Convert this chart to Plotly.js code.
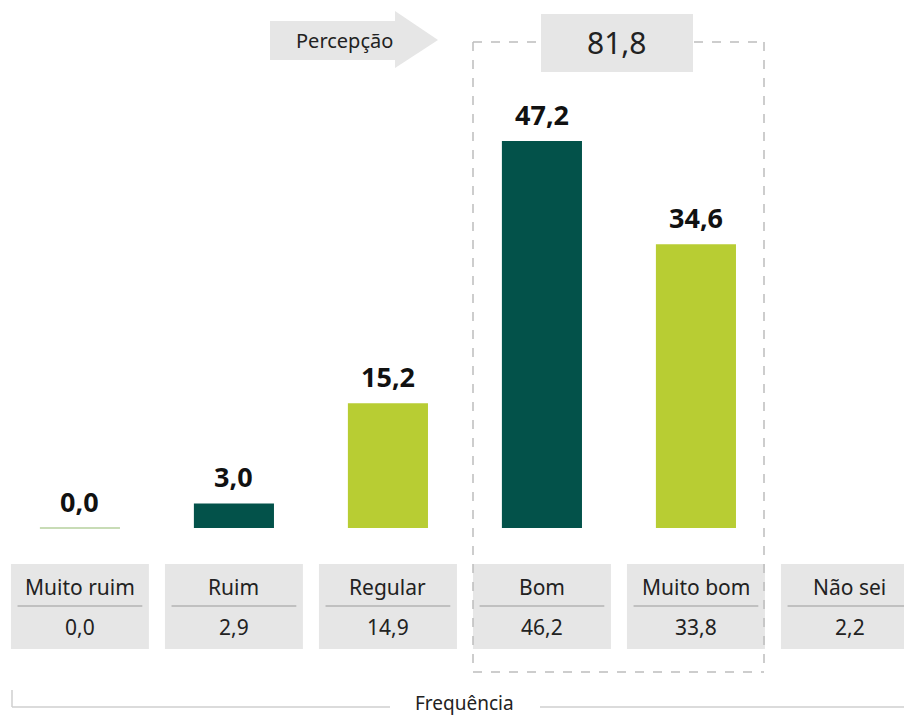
<!DOCTYPE html>
<html>
<head>
<meta charset="utf-8">
<script src="https://cdn.plot.ly/plotly-3.0.1.min.js"></script>
<style>html,body{margin:0;padding:0;background:#fff;}#chart{width:904px;height:718px;}</style>
</head>
<body>
<div id="chart"></div>
<script>
// ---- data ----
var categories = ["Muito ruim", "Ruim", "Regular", "Bom", "Muito bom", "Não sei"];
var percepcao = [0.0, 3.0, 15.2, 47.2, 34.6, null];
var frequencia = [0.0, 2.9, 14.9, 46.2, 33.8, 2.2];
var percepcaoTotal = 81.8;
var barColors = ["#C8DCB6", "#03524A", "#B8CD33", "#03524A", "#B8CD33", "#ffffff"];

// ---- helpers ----
var W = 904, H = 718;
function px(x){ return x / W; }
function py(y){ return 1 - y / H; }
function fmt(v){ return v.toFixed(1).replace('.', ','); }
var FONT = "Noto Sans, Open Sans, sans-serif";

var idx = categories.map(function(_, i){ return i; });

var trace = {
  type: "bar",
  x: idx,
  y: percepcao,
  width: 0.52,
  marker: { color: barColors },
  hoverinfo: "skip",
  showlegend: false
};

var shapes = [];
var annotations = [];

// bar value labels
percepcao.forEach(function(v, i){
  if (v === null) return;
  annotations.push({
    x: i, y: v, xref: "x", yref: "y", xanchor: "center",
    text: "<b>" + fmt(v) + "</b>", showarrow: false,
    yanchor: "bottom", yshift: 6,
    font: { family: FONT, size: 27, color: "#111" }
  });
  if (v === 0) {
    shapes.push({ type: "line", xref: "x", yref: "y", x0: i - 0.26, x1: i + 0.26, y0: 0, y1: 0,
      line: { color: barColors[i], width: 2 } });
  }
});

// frequency table
categories.forEach(function(c, i){
  shapes.push({ type: "rect", xref: "x", yref: "paper", x0: i - 0.448, x1: i + 0.448,
    y0: py(649), y1: py(564), fillcolor: "#E6E6E6", line: { width: 0 }, layer: "below" });
  shapes.push({ type: "line", xref: "x", yref: "paper", x0: i - 0.405, x1: i + 0.405,
    y0: py(606), y1: py(606), line: { color: "#9A9A9A", width: 1 } });
  annotations.push({ x: i, y: py(587), xref: "x", yref: "paper", xanchor: "center", text: c, showarrow: false,
    yanchor: "middle", font: { family: FONT, size: 21, color: "#222" } });
  annotations.push({ x: i, y: py(627), xref: "x", yref: "paper", xanchor: "center", text: fmt(frequencia[i]), showarrow: false,
    yanchor: "middle", font: { family: FONT, size: 21, color: "#222" } });
});

// dashed bracket around Bom / Muito bom
var dash = { color: "#BDBDBD", width: 1.5, dash: "dash" };
shapes.push({ type: "line", xref: "paper", yref: "paper", x0: px(473), x1: px(540), y0: py(42), y1: py(42), line: dash });
shapes.push({ type: "line", xref: "paper", yref: "paper", x0: px(694), x1: px(764), y0: py(42), y1: py(42), line: dash });
shapes.push({ type: "line", xref: "paper", yref: "paper", x0: px(473), x1: px(473), y0: py(42), y1: py(672), line: dash });
shapes.push({ type: "line", xref: "paper", yref: "paper", x0: px(764), x1: px(764), y0: py(42), y1: py(672), line: dash });
shapes.push({ type: "line", xref: "paper", yref: "paper", x0: px(473), x1: px(764), y0: py(672), y1: py(672), line: dash });

// total box
shapes.push({ type: "rect", xref: "paper", yref: "paper", x0: px(541), x1: px(693), y0: py(72), y1: py(14),
  fillcolor: "#E6E6E6", line: { width: 0 } });
annotations.push({ x: px(617), y: py(43), xref: "paper", yref: "paper", xanchor: "center", text: fmt(percepcaoTotal), showarrow: false,
  yanchor: "middle", font: { family: FONT, size: 30, color: "#222" } });

// arrow "Percepção"
var arrowPath = "M " + px(270) + " " + py(21) + " L " + px(395) + " " + py(21) + " L " + px(395) + " " + py(11) +
  " L " + px(438) + " " + py(40) + " L " + px(395) + " " + py(68) + " L " + px(395) + " " + py(60) +
  " L " + px(270) + " " + py(60) + " Z";
shapes.push({ type: "path", xref: "paper", yref: "paper", path: arrowPath, fillcolor: "#E6E6E6", line: { width: 0 } });
annotations.push({ x: px(344), y: py(40), xref: "paper", yref: "paper", xanchor: "center", text: "Percepção", showarrow: false,
  yanchor: "middle", font: { family: FONT, size: 20, color: "#222" } });

// "Frequência" bracket
var thin = { color: "#CFCFCF", width: 1.5 };
shapes.push({ type: "line", xref: "paper", yref: "paper", x0: px(12), x1: px(12), y0: py(690), y1: py(707), line: thin });
shapes.push({ type: "line", xref: "paper", yref: "paper", x0: px(12), x1: px(390), y0: py(707), y1: py(707), line: thin });
shapes.push({ type: "line", xref: "paper", yref: "paper", x0: px(540), x1: px(904), y0: py(707), y1: py(707), line: thin });
annotations.push({ x: px(464), y: py(703), xref: "paper", yref: "paper", xanchor: "center", text: "Frequência", showarrow: false,
  yanchor: "middle", font: { family: FONT, size: 19, color: "#222" } });

var layout = {
  width: W, height: H,
  margin: { l: 0, r: 0, t: 0, b: 0, pad: 0 },
  paper_bgcolor: "#ffffff", plot_bgcolor: "#ffffff",
  xaxis: { range: [-0.519, 5.351], visible: false, fixedrange: true },
  yaxis: { range: [-23.17, 64.39], visible: false, fixedrange: true },
  shapes: shapes,
  annotations: annotations,
  showlegend: false
};

Plotly.newPlot("chart", [trace], layout, { displayModeBar: false, staticPlot: true });
</script>
</body>
</html>
